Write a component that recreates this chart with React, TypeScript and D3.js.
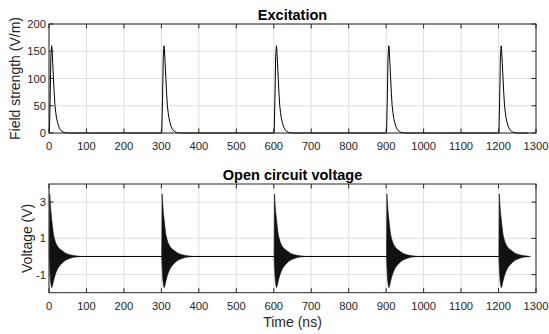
import React from "react";
import * as d3 from "d3";

// ---- data ----
const pulseStarts = [0, 300, 600, 900, 1200];
const tEnd = 1280;

// excitation pulse shape, time relative to pulse start (ns) and field (V/m)
const excT = [0, 1, 3, 5, 7, 8, 10, 12, 14, 16, 18, 20, 23, 26, 30, 35, 40, 50];
const excV = [0, 0, 60, 140, 160, 155, 128, 100, 72, 50, 38, 28, 19, 12, 6, 3, 1, 0];

// open-circuit voltage ringing envelope, time relative to pulse start (ns), volts
const envT = [1, 2, 3, 4, 5, 7, 9, 12, 15, 18, 23, 28, 38, 45, 55, 65, 75, 85];
const envUpper = [0, 3.45, 3.1, 2.8, 2.5, 2.1, 1.7, 1.2, 0.95, 0.75, 0.55, 0.42, 0.27, 0.17, 0.1, 0.05, 0.02, 0];
const envLower = [0, -0.6, -1.0, -1.3, -1.5, -1.72, -1.65, -1.35, -1.12, -0.92, -0.68, -0.52, -0.3, -0.2, -0.11, -0.05, -0.02, 0];

const xTicks = [0, 100, 200, 300, 400, 500, 600, 700, 800, 900, 1000, 1100, 1200, 1300];
const topYTicks = [0, 50, 100, 150, 200];
const botYTicks = [-1, 1, 3];

const W = 549, H = 334;
const FONT = "'Liberation Sans', Arial, Helvetica, sans-serif";
const AX = "#262626";
const GRID = "#dfdfdf";

const x = d3.scaleLinear().domain([0, 1300]).range([49, 536]);
const yTop = d3.scaleLinear().domain([0, 200]).range([133, 24]);
const yBot = d3.scaleLinear().domain([-2, 4]).range([292.7, 184]);

function Axes({ y, yTicks, top, bottom, title, ylabel, ylabelX }: any) {
  const x0 = x.range()[0], x1 = x.range()[1];
  return (
    <g>
      {xTicks.map((t) => (
        <line key={"gx" + t} x1={x(t)} x2={x(t)} y1={top} y2={bottom} stroke={GRID} strokeWidth={1} />
      ))}
      {yTicks.map((t: number) => (
        <line key={"gy" + t} x1={x0} x2={x1} y1={y(t)} y2={y(t)} stroke={GRID} strokeWidth={1} />
      ))}
      <text x={(x0 + x1) / 2} y={top - 4.5} textAnchor="middle" fontFamily={FONT} fontWeight="bold" fontSize={14.5} fill="#000">
        {title}
      </text>
      <text
        transform={`translate(${ylabelX},${(top + bottom) / 2}) rotate(-90)`}
        textAnchor="middle"
        dominantBaseline="central"
        fontFamily={FONT}
        fontSize={14}
        fill={AX}
      >
        {ylabel}
      </text>
      {xTicks.map((t) => (
        <text key={"xl" + t} x={x(t)} y={bottom + 13} textAnchor="middle" dominantBaseline="central" fontFamily={FONT} fontSize={11.2} fill={AX}>
          {t}
        </text>
      ))}
      {yTicks.map((t: number) => (
        <text key={"yl" + t} x={x0 - 3} y={y(t)} textAnchor="end" dominantBaseline="central" fontFamily={FONT} fontSize={11.2} fill={AX}>
          {t}
        </text>
      ))}
    </g>
  );
}

function Frame({ y, yTicks, top, bottom }: any) {
  const x0 = x.range()[0], x1 = x.range()[1];
  const tl = 4.5;
  return (
    <g stroke={AX} strokeWidth={1} fill="none">
      {xTicks.map((t) => (
        <g key={"xt" + t}>
          <line x1={x(t)} x2={x(t)} y1={bottom} y2={bottom - tl} />
          <line x1={x(t)} x2={x(t)} y1={top} y2={top + tl} />
        </g>
      ))}
      {yTicks.map((t: number) => (
        <g key={"yt" + t}>
          <line x1={x0} x2={x0 + tl} y1={y(t)} y2={y(t)} />
          <line x1={x1} x2={x1 - tl} y1={y(t)} y2={y(t)} />
        </g>
      ))}
      <rect x={x0} y={top} width={x1 - x0} height={bottom - top} />
    </g>
  );
}

export default function App() {
  const excPts: [number, number][] = [];
  pulseStarts.forEach((s) => {
    excT.forEach((t, i) => excPts.push([s + t, excV[i]]));
  });
  excPts.push([tEnd, 0]);
  const excLine = d3
    .line<[number, number]>()
    .x((d) => x(d[0]))
    .y((d) => yTop(d[1]))(excPts);

  const area = d3
    .area<number>()
    .x((i) => x(envT[i]))
    .y0((i) => yBot(envLower[i]))
    .y1((i) => yBot(envUpper[i]));
  const idx = envT.map((_, i) => i);

  const baseLine = d3
    .line<[number, number]>()
    .x((d) => x(d[0]))
    .y((d) => yBot(d[1]))([
    [0, 0],
    [tEnd, 0],
  ]);

  return (
    <svg width={W} height={H} style={{ position: "absolute", left: 0, top: 0, background: "#fff" }}>
      <rect width={W} height={H} fill="#fff" />
      <Axes y={yTop} yTicks={topYTicks} top={24} bottom={133} title="Excitation" ylabel="Field strength (V/m)" ylabelX={15} />
      <path d={excLine || ""} fill="none" stroke="#000" strokeWidth={1} />
      <Frame y={yTop} yTicks={topYTicks} top={24} bottom={133} />

      <Axes y={yBot} yTicks={botYTicks} top={184} bottom={292.7} title="Open circuit voltage" ylabel="Voltage (V)" ylabelX={27} />
      <path d={baseLine || ""} fill="none" stroke="#000" strokeWidth={1} />
      {pulseStarts.map((s) => (
        <g key={"p" + s} transform={`translate(${x(s) - x(0)},0)`}>
          <path d={area(idx) || ""} fill="#111" stroke="#111" strokeWidth={0.6} />
        </g>
      ))}
      <Frame y={yBot} yTicks={botYTicks} top={184} bottom={292.7} />

      <text x={(x(0) + x(1300)) / 2} y={322} textAnchor="middle" dominantBaseline="central" fontFamily={FONT} fontSize={14} fill={AX}>
        Time (ns)
      </text>
    </svg>
  );
}
